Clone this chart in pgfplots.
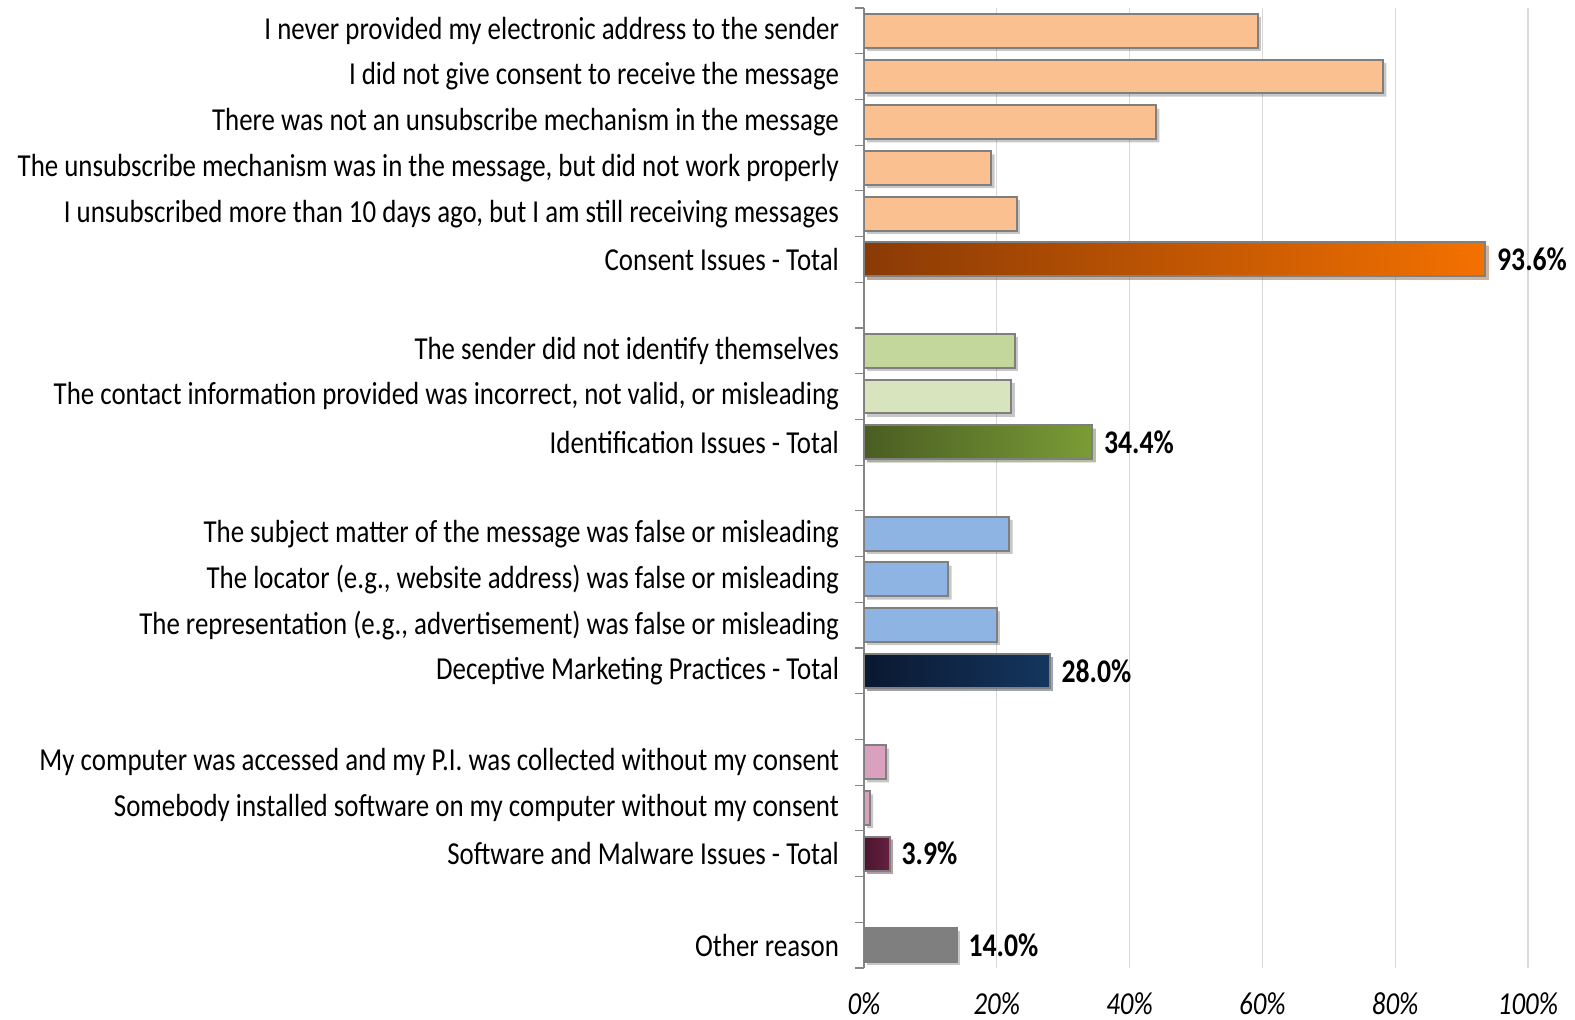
\documentclass[border=0pt]{standalone}
\usepackage{fontspec}
\setmainfont{Carlito}[FakeStretch=0.84]
\usepackage{pgfplots}
\pgfplotsset{compat=1.18}
\definecolor{lorange}{HTML}{FAC090}
\definecolor{dorangeL}{HTML}{8A3A06}
\definecolor{dorangeR}{HTML}{F47100}
\definecolor{lgreen}{HTML}{C3D69B}
\definecolor{llgreen}{HTML}{D7E4BD}
\definecolor{dgreenL}{HTML}{4A5D22}
\definecolor{dgreenR}{HTML}{7A9C36}
\definecolor{lblue}{HTML}{8EB4E3}
\definecolor{dblueL}{HTML}{0A1830}
\definecolor{dblueR}{HTML}{14365F}
\definecolor{lpink}{HTML}{D9A1BD}
\definecolor{dpinkL}{HTML}{4A1530}
\definecolor{dpinkR}{HTML}{66213F}
\definecolor{obar}{HTML}{7F7F7F}
\definecolor{bedge}{HTML}{7F7F7F}
\definecolor{gridc}{HTML}{D9D9D9}
\definecolor{axc}{HTML}{868686}
\begin{document}
\begin{tikzpicture}
\useasboundingbox (-432pt,-26pt) rectangle (355.5pt,484pt);
\begin{axis}[
  scale only axis,
  width=332pt, height=480pt,
  xmin=0, xmax=100, ymin=-0.5, ymax=20.5,
  font=\fontsize{16pt}{19pt}\selectfont,
  axis y line*=left, axis x line*=bottom,
  x axis line style={draw=none},
  y axis line style={draw=axc, line width=0.6pt},
  xmajorgrids=true, ymajorgrids=false,
  grid style={draw=gridc, line width=0.6pt},
  xtick={0,20,40,60,80,100},
  xticklabels={0\%,20\%,40\%,60\%,80\%,100\%},
  xticklabel style={font=\fontsize{16pt}{19pt}\selectfont\itshape, yshift=-9pt},
  ytick={0,...,20},
  yticklabels={Other reason,{},Software and Malware Issues - Total,Somebody installed software on my computer without my consent,My computer was accessed and my P.I. was collected without my consent,{},Deceptive Marketing Practices - Total,{The representation (e.g., advertisement) was false or misleading},{The locator (e.g., website address) was false or misleading},The subject matter of the message was false or misleading,{},Identification Issues - Total,{The contact information provided was incorrect, not valid, or misleading},The sender did not identify themselves,{},Consent Issues - Total,{I unsubscribed more than 10 days ago, but I am still receiving messages},{The unsubscribe mechanism was in the message, but did not work properly},There was not an unsubscribe mechanism in the message,I did not give consent to receive the message,I never provided my electronic address to the sender},
  yticklabel style={anchor=east, xshift=-9pt},
  major tick length=0pt,
  minor ytick={-0.5,0.5,...,20.5},
  minor tick length=4.5pt,
  tick align=outside,
  minor tick style={draw=axc, line width=0.6pt},
  /pgf/number format/assume math mode=true,
  mybar/.style={xbar, bar width=0.74, bar shift=0pt, draw=bedge, line width=1pt,
    preaction={fill=black, fill opacity=0.22, draw=none, transform canvas={xshift=1.6pt, yshift=-1.6pt}}},
  tot/.style={nodes near coords={\pgfmathprintnumber[fixed,fixed zerofill,precision=1]{\pgfplotspointmeta}\%},
    point meta=x, every node near coord/.append style={font=\fontsize{16.5pt}{19pt}\selectfont\bfseries, text=black, anchor=west, xshift=2pt}},
]
% Consent
\addplot[mybar, fill=lorange] coordinates {(59.3,20) (78.2,19) (44.0,18) (19.2,17) (23.0,16)};
\addplot[mybar, tot, left color=dorangeL, right color=dorangeR] coordinates {(93.6,15)};
% Identification
\addplot[mybar, fill=lgreen] coordinates {(22.7,13)};
\addplot[mybar, fill=llgreen] coordinates {(22.2,12)};
\addplot[mybar, tot, left color=dgreenL, right color=dgreenR] coordinates {(34.4,11)};
% Deceptive
\addplot[mybar, fill=lblue] coordinates {(21.9,9) (12.7,8) (20.0,7)};
\addplot[mybar, tot, left color=dblueL, right color=dblueR] coordinates {(28.0,6)};
% Software
\addplot[mybar, fill=lpink] coordinates {(3.3,4) (0.9,3)};
\addplot[mybar, tot, left color=dpinkL, right color=dpinkR] coordinates {(3.9,2)};
% Other
\addplot[mybar, tot, fill=obar, draw=obar] coordinates {(14.0,0)};
\end{axis}
\end{tikzpicture}
\end{document}
